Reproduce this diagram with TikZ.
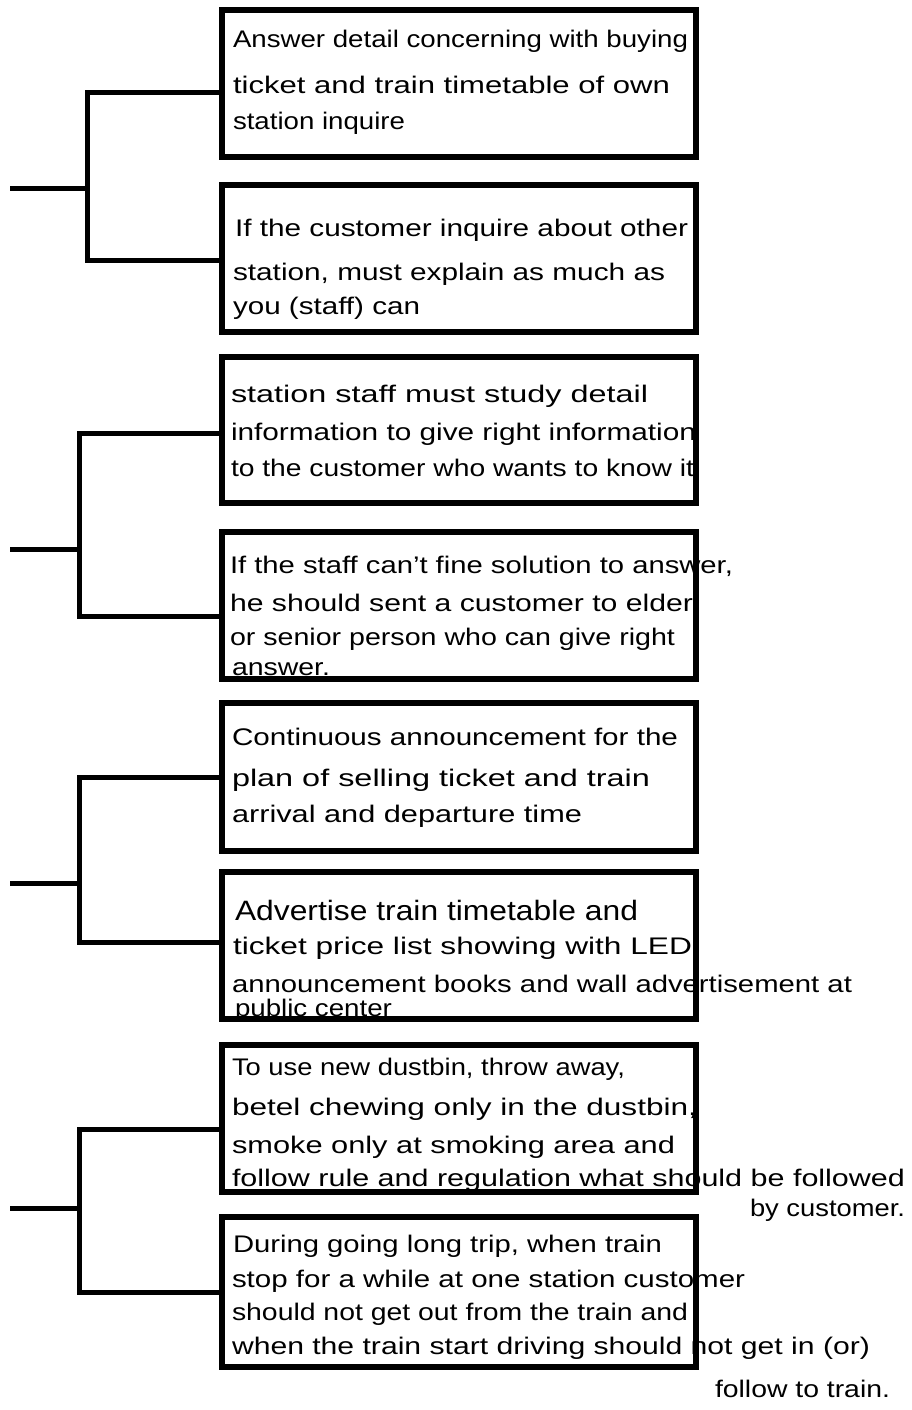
\documentclass[tikz,border=0pt]{standalone}
\usepackage{fontspec}
\usepackage{graphicx}
\setmainfont{Liberation Sans}
% stretch one handwritten line to a given width, keeping its height
\newcommand{\fitw}[2]{\resizebox{#1}{\height}{#2}}
\begin{document}
\begin{tikzpicture}[x=1pt,y=-1pt,
  box/.style={draw=black,line width=5.5pt,minimum width=474pt,inner sep=0pt,outer sep=0pt},
  wire/.style={draw=black,line width=5pt,line join=miter},
  ln/.style={anchor=base west,inner sep=0pt,outer sep=0pt,text=black,font=\fontsize{24}{28}\selectfont},
  big/.style={ln,font=\fontsize{28}{32}\selectfont}]
\fill[white] (0,0) rectangle (912,1410);
\useasboundingbox (0,0) rectangle (912,1410);

% boxes
\node[box,minimum height=147pt] (b1) at (459,83.5) {};
\node[box,minimum height=147pt] (b2) at (459,258.5) {};
\node[box,minimum height=146pt] (b3) at (459,430) {};
\node[box,minimum height=147pt] (b4) at (459,605.5) {};
\node[box,minimum height=148pt] (b5) at (459,777) {};
\node[box,minimum height=147pt] (b6) at (459,945.5) {};
\node[box,minimum height=147pt] (b7) at (459,1118.5) {};
\node[box,minimum height=150pt] (b8) at (459,1292) {};

% bracket joints
\coordinate (r1) at (10,188);   \coordinate (k1a) at (87,93);   \coordinate (k1b) at (87,260);
\coordinate (r2) at (10,549);   \coordinate (k2a) at (79,433);  \coordinate (k2b) at (79,616);
\coordinate (r3) at (10,883);   \coordinate (k3a) at (79,777);  \coordinate (k3b) at (79,942);
\coordinate (r4) at (10,1208);  \coordinate (k4a) at (79,1129); \coordinate (k4b) at (79,1292);

\draw[wire] (r1) -- (r1 -| k1a);
\draw[wire] (b1.west |- k1a) -- (k1a) -- (k1b) -- (b2.west |- k1b);
\draw[wire] (r2) -- (r2 -| k2a);
\draw[wire] (b3.west |- k2a) -- (k2a) -- (k2b) -- (b4.west |- k2b);
\draw[wire] (r3) -- (r3 -| k3a);
\draw[wire] (b5.west |- k3a) -- (k3a) -- (k3b) -- (b6.west |- k3b);
\draw[wire] (r4) -- (r4 -| k4a);
\draw[wire] (b7.west |- k4a) -- (k4a) -- (k4b) -- (b8.west |- k4b);

% box 1
\node[ln] (t1a) at (233,48)  {\fitw{455pt}{Answer detail concerning with buying}};
\node[ln] (t1b) at (233,94)  {\fitw{437pt}{ticket and train timetable of own}};
\node[ln] (t1c) at (233,129) {\fitw{172pt}{station inquire}};
% box 2
\node[ln] (t2a) at (235,236) {\fitw{453pt}{If the customer inquire about other}};
\node[ln] (t2b) at (233,280) {\fitw{432pt}{station, must explain as much as}};
\node[ln] (t2c) at (233,314) {\fitw{187pt}{you (staff) can}};
% box 3
\node[ln] (t3a) at (231,402) {\fitw{417pt}{station staff must study detail}};
\node[ln] (t3b) at (231,440) {\fitw{465pt}{information to give right information}};
\node[ln] (t3c) at (231,476) {\fitw{463pt}{to the customer who wants to know it}};
% box 4
\node[ln] (t4a) at (230,573) {\fitw{503pt}{If the staff can't fine solution to answer,}};
\node[ln] (t4b) at (230,611) {\fitw{463pt}{he should sent a customer to elder}};
\node[ln] (t4c) at (230,645) {\fitw{445pt}{or senior person who can give right}};
\node[ln] (t4d) at (232,675) {\fitw{98pt}{answer.}};
% box 5
\node[ln] (t5a) at (232,745) {\fitw{446pt}{Continuous announcement for the}};
\node[ln] (t5b) at (232,786) {\fitw{418pt}{plan of selling ticket and train}};
\node[ln] (t5c) at (232,822) {\fitw{350pt}{arrival and departure time}};
% box 6
\node[big] (t6a) at (235,920) {\fitw{403pt}{Advertise train timetable and}};
\node[ln] (t6b) at (233,954) {\fitw{459pt}{ticket price list showing with LED}};
\node[ln] (t6c) at (232,992) {\fitw{620pt}{announcement books and wall advertisement at}};
\node[ln] (t6d) at (235,1016) {\fitw{157pt}{public center}};
% box 7
\node[ln] (t7a) at (232,1075) {\fitw{393pt}{To use new dustbin, throw away,}};
\node[ln] (t7b) at (232,1115) {\fitw{465pt}{betel chewing only in the dustbin,}};
\node[ln] (t7c) at (232,1153) {\fitw{443pt}{smoke only at smoking area and}};
\node[ln] (t7d) at (232,1186) {\fitw{673pt}{follow rule and regulation what should be followed}};
\node[ln] (t7e) at (750,1216) {\fitw{155pt}{by customer.}};
% box 8
\node[ln] (t8a) at (233,1252) {\fitw{429pt}{During going long trip, when train}};
\node[ln] (t8b) at (232,1287) {\fitw{513pt}{stop for a while at one station customer}};
\node[ln] (t8c) at (232,1320) {\fitw{456pt}{should not get out from the train and}};
\node[ln] (t8d) at (232,1354) {\fitw{638pt}{when the train start driving should not get in (or)}};
\node[ln] (t8e) at (715,1397) {\fitw{175pt}{follow to train.}};
\end{tikzpicture}
\end{document}
